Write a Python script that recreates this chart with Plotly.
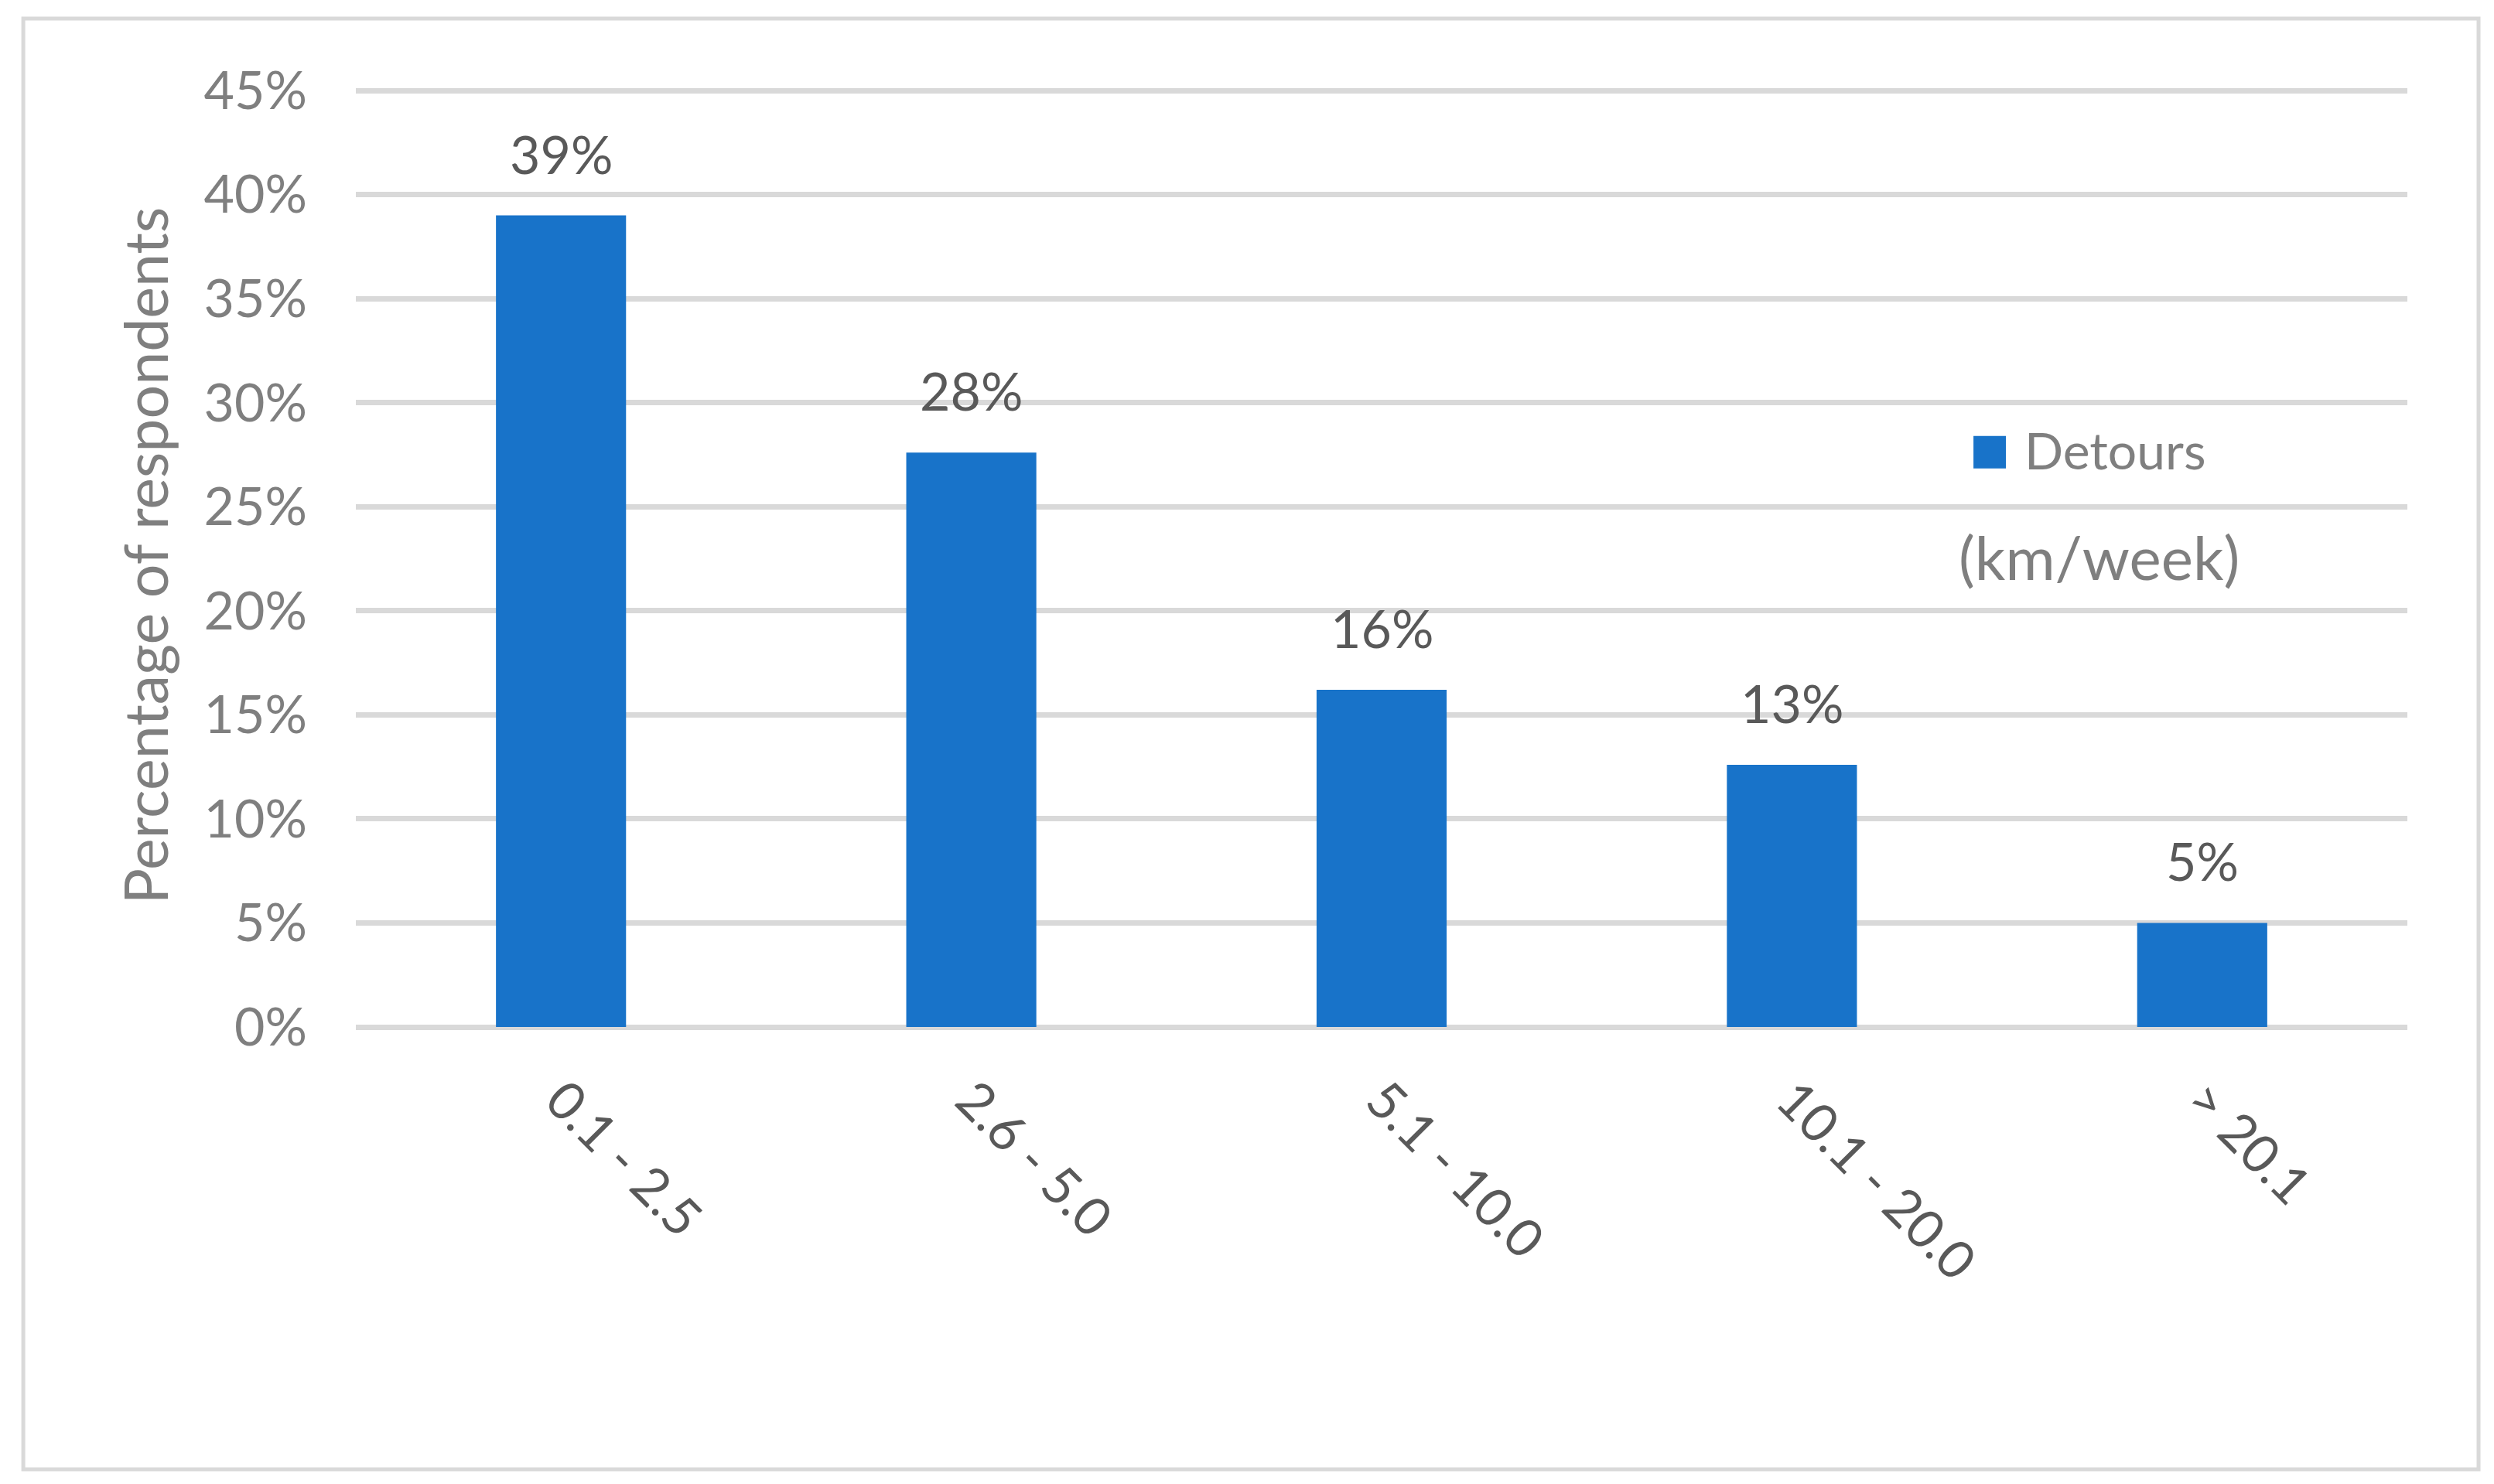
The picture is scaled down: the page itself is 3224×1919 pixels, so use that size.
import plotly.graph_objects as go

categories = ["0.1 - 2.5", "2.6 - 5.0", "5.1 - 10.0", "10.1 - 20.0", "> 20.1"]
values = [39.0, 27.6, 16.2, 12.6, 5.0]
y_ticks = [0, 5, 10, 15, 20, 25, 30, 35, 40, 45]
series_name = "Detours"
unit_label = "(km/week)"
y_title = "Percentage of respondents"

BAR = "#1873c9"
GRID = "#d9d9d9"
FONT = "Lato"

fig = go.Figure()
fig.add_trace(go.Bar(
    x=categories, y=values, name=series_name,
    marker=dict(color=BAR, line=dict(width=0)),
    showlegend=False, hoverinfo="x+y",
))

annotations = []
for c, v in zip(categories, values):
    annotations.append(dict(
        x=c, y=v, xref="x", yref="y", text=f"{v:.0f}%", showarrow=False,
        yanchor="bottom", yshift=38,
        font=dict(family=FONT, size=68, color="#595959"),
    ))

# legend (manual, to match size)
annotations.append(dict(
    x=0.8126, y=27.75, xref="paper", yref="y", text=series_name, showarrow=False,
    xanchor="left", yanchor="middle",
    font=dict(family=FONT, size=66, color="#7f7f7f"),
))
annotations.append(dict(
    x=0.8499, y=22.6, xref="paper", yref="y", text=unit_label, showarrow=False,
    xanchor="center", yanchor="middle",
    font=dict(family=FONT, size=78, color="#7f7f7f"),
))

shapes = [
    dict(type="rect", xref="paper", yref="y", x0=0.7885, x1=0.8043, y0=26.84, y1=28.4,
         fillcolor=BAR, line=dict(width=0)),
    dict(type="rect", xref="paper", yref="paper", x0=-0.1621, x1=1.0347, y0=-0.4692, y1=1.0697,
         line=dict(color=GRID, width=5), fillcolor="rgba(0,0,0,0)", layer="below"),
]

fig.update_layout(
    width=3224, height=1919,
    margin=dict(l=460, r=112, t=109, b=591, pad=0),
    paper_bgcolor="white", plot_bgcolor="white",
    bargap=0.683,
    font=dict(family=FONT, size=68, color="#7f7f7f"),
    annotations=annotations,
    shapes=shapes,
    showlegend=False,
)

fig.update_yaxes(
    range=[0, 45.3], tickvals=y_ticks, ticktext=[f"{t}%" for t in y_ticks],
    showgrid=True, gridcolor=GRID, gridwidth=7,
    zeroline=True, zerolinecolor=GRID, zerolinewidth=7,
    showline=False, ticks="", ticklabelstandoff=62,
    tickfont=dict(family=FONT, size=68, color="#7f7f7f"),
    title=dict(text=y_title, font=dict(family=FONT, size=77, color="#7f7f7f"), standoff=20),
    automargin=False,
)
fig.update_xaxes(
    type="category", tickangle=45, showgrid=False, showline=False, ticks="",
    ticklabelstandoff=40,
    tickfont=dict(family=FONT, size=68, color="#595959"),
    automargin=False,
)

fig.write_html(
    "out.html",
    config={"displayModeBar": False},
    post_script="document.body.style.margin='0';document.body.style.overflow='hidden';",
)
